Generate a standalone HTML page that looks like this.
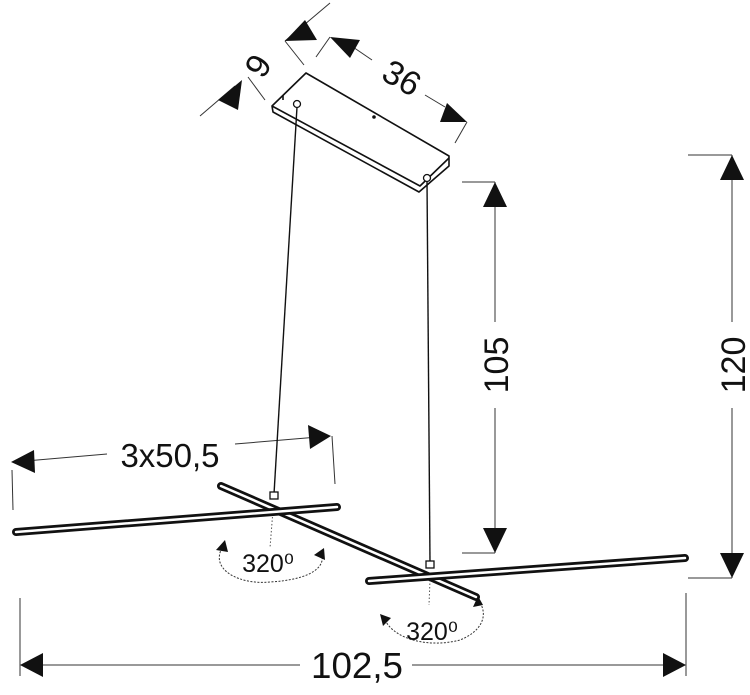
<!DOCTYPE html>
<html><head><meta charset="utf-8"><style>
html,body{margin:0;padding:0;background:#fff;}
svg{display:block}
text{font-family:"Liberation Sans",sans-serif;fill:#111}
</style></head><body>
<svg width="750" height="695" viewBox="0 0 750 695" xmlns="http://www.w3.org/2000/svg">
<g stroke="#333" stroke-width="1" fill="none">
<line x1="200" y1="116" x2="235" y2="86"/>
<line x1="248" y1="77" x2="265" y2="100"/>
<line x1="285" y1="41" x2="330" y2="3"/>
<line x1="285" y1="41" x2="304" y2="65"/>
<line x1="316" y1="57" x2="330" y2="37"/>
<line x1="350" y1="45" x2="372" y2="60"/>
<line x1="425" y1="95" x2="445" y2="107"/>
<line x1="467" y1="122" x2="455" y2="143"/>
<line x1="462" y1="182" x2="495" y2="182"/>
<line x1="495" y1="182" x2="495" y2="322"/>
<line x1="495" y1="408" x2="495" y2="553"/>
<line x1="462" y1="553" x2="495" y2="553"/>
<line x1="688" y1="155" x2="732" y2="155"/>
<line x1="732" y1="155" x2="732" y2="322"/>
<line x1="732" y1="408" x2="732" y2="578"/>
<line x1="688" y1="578" x2="732" y2="578"/>
<line x1="12" y1="470" x2="13" y2="510"/>
<line x1="14" y1="462" x2="107" y2="454"/>
<line x1="235" y1="444" x2="330" y2="436"/>
<line x1="332" y1="436" x2="335" y2="484"/>
<line x1="20" y1="598" x2="20" y2="676"/>
<line x1="686" y1="593" x2="686" y2="676"/>
<line x1="22" y1="665" x2="300" y2="665"/>
<line x1="412" y1="665" x2="684" y2="665"/>
</g>
<g fill="#111">
<polygon points="218,100 242,80 238,110"/>
<polygon points="285,41 305,20 317,40"/>
<polygon points="330,37 360,40 350,58"/>
<polygon points="467,122 447,103 440,122"/>
<polygon points="495,182 483,207 507,207"/>
<polygon points="495,553 483,528 507,528"/>
<polygon points="732,155 720,180 744,180"/>
<polygon points="732,578 720,553 744,553"/>
<polygon points="11,462 34,450 35,473"/>
<polygon points="331,436 308,425 310,449"/>
<polygon points="20,665 43,653 43,677"/>
<polygon points="686,665 663,653 663,677"/>
</g>
<g stroke="#111" stroke-width="1.6" fill="#fff" stroke-linejoin="round">
<polygon points="272,106 306,73 449,156 449,166 419,192 273,112"/>
<polyline points="272,106 420,186 449,158" fill="none"/>
<polyline points="283,95 283,100" fill="none"/>
</g>
<circle cx="297" cy="104" r="3.5" fill="#fff" stroke="#111" stroke-width="1.3"/>
<circle cx="427" cy="178" r="3.5" fill="#fff" stroke="#111" stroke-width="1.3"/>
<circle cx="374" cy="117" r="1.8" fill="#111"/>
<line x1="297" y1="107" x2="274" y2="494" stroke="#111" stroke-width="1.4"/>
<line x1="427" y1="181" x2="430" y2="563" stroke="#111" stroke-width="1.4"/>
<line x1="273" y1="510" x2="270" y2="548" stroke="#555" stroke-dasharray="1.5,2"/>
<line x1="430" y1="580" x2="429" y2="605" stroke="#555" stroke-dasharray="1.5,2"/>
<g stroke-linecap="round">
<line x1="221" y1="486" x2="476" y2="597" stroke="#111" stroke-width="8"/>
<line x1="221" y1="486" x2="476" y2="597" stroke="#fff" stroke-width="2.5"/>
<line x1="16" y1="532" x2="337" y2="507" stroke="#111" stroke-width="8"/>
<line x1="16" y1="532" x2="337" y2="507" stroke="#fff" stroke-width="2.5"/>
<line x1="369" y1="581" x2="685" y2="558" stroke="#111" stroke-width="8"/>
<line x1="369" y1="581" x2="685" y2="558" stroke="#fff" stroke-width="2.5"/>
</g>
<rect x="270" y="492" width="8" height="7" fill="#fff" stroke="#111" stroke-width="1.3"/>
<rect x="426" y="561" width="8" height="7" fill="#fff" stroke="#111" stroke-width="1.3"/>
<g fill="none" stroke="#333" stroke-width="1" stroke-dasharray="2,1.5">
<path d="M222,548 C210,570 240,585 270,582 C305,580 325,570 322,555"/>
<path d="M385,620 C395,640 430,648 460,640 C485,630 488,612 478,600"/>
</g>
<polygon points="225,540 216,550 228,552" fill="#111"/>
<polygon points="324,548 314,555 325,560" fill="#111"/>
<polygon points="380,614 383,626 391,618" fill="#111"/>
<polygon points="478,596 473,607 483,605" fill="#111"/>
<text x="170" y="467" font-size="33" text-anchor="middle">3x50,5</text>
<text x="268" y="572" font-size="25" text-anchor="middle">320⁰</text>
<text x="432" y="640" font-size="25" text-anchor="middle">320⁰</text>
<text x="357" y="678" font-size="36" text-anchor="middle" textLength="92" lengthAdjust="spacingAndGlyphs">102,5</text>
<text transform="translate(508,365) rotate(-90)" font-size="34" text-anchor="middle">105</text>
<text transform="translate(745,365) rotate(-90)" font-size="34" text-anchor="middle">120</text>
<text transform="translate(268,72) rotate(-58)" font-size="34" text-anchor="middle">9</text>
<text transform="translate(396,88) rotate(30)" font-size="34" text-anchor="middle">36</text>
</svg>
</body></html>
